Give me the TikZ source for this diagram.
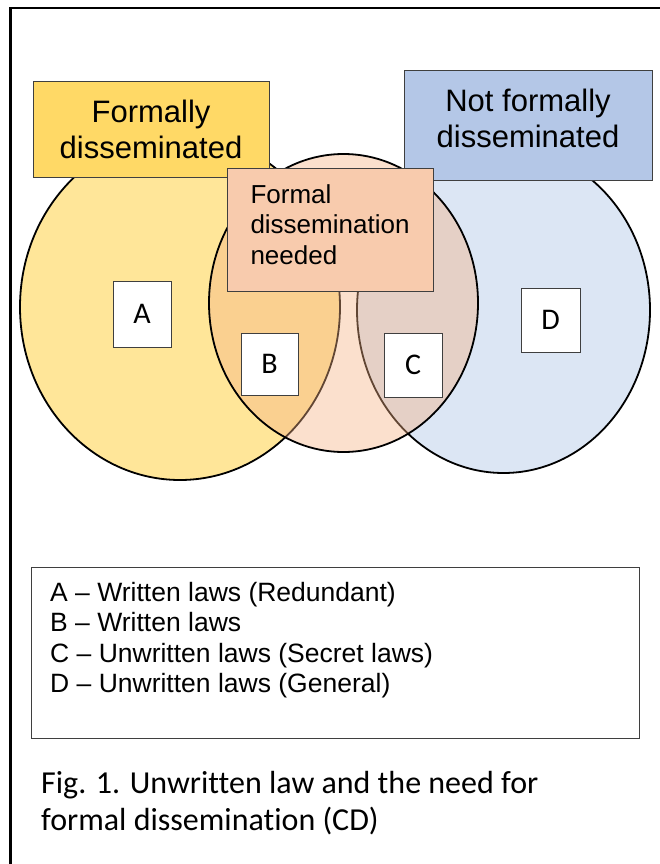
\documentclass[tikz,border=0pt]{standalone}
\usepackage{fontspec}
\setmainfont{Liberation Sans}
\newfontfamily\captionfont[Ligatures={NoCommon}]{Carlito}
\usepackage{tikz}
\usetikzlibrary{shapes}

\definecolor{formalGold}{HTML}{FFD966}
\definecolor{formalLight}{HTML}{FFE699}
\definecolor{notFormalBlue}{HTML}{B4C7E7}
\definecolor{notFormalLight}{HTML}{DCE6F4}
\definecolor{neededPeach}{HTML}{F8CBAD}
\definecolor{neededLight}{HTML}{F4B183}
\definecolor{boxGray}{HTML}{3F3F3F}

\begin{document}
\begin{tikzpicture}[x=1pt, y=-1pt]
            % Set primary nodes
            \tikzset{
                setNode/.style={
                        draw,
                        ellipse,
                        line width=1.8pt,
                        inner sep=0pt
                    }
            }
            \tikzset{
                titleNode/.style={
                        draw=boxGray,
                        rectangle,
                        line width=1pt,
                        align=center,
                        font=\fontsize{31}{36}\selectfont
                    }
            }
            \tikzset{
                letterNode/.style={
                        draw=boxGray,
                        fill=white,
                        rectangle,
                        line width=1pt,
                        inner sep=0pt,
                        font=\captionfont\fontsize{30}{36}\selectfont
                    }
            }
            \tikzset{
                lineNode/.style={
                        anchor=base west,
                        inner sep=0pt
                    }
            }
            \useasboundingbox (0,0) rectangle (660,864);
            % Frame
            \draw[line width=2.5pt] (10.3,864) -- (10.3,8.2) -- (660,8.2);
            % Placing sets
            \node[setNode, fill=formalLight, minimum width=320, minimum height=346](formalSet) at (180,307){};
            \node[setNode, fill=notFormalLight, minimum width=293, minimum height=326](notFormalSet) at (503.5,310){};
            \node[setNode, fill=neededLight, fill opacity=0.4, minimum width=269, minimum height=298](neededSet) at (343.5,303){};
            % Placing titles
            \node[titleNode, fill=formalGold, minimum width=236, minimum height=95](formalBox) at (151,129.5){Formally\\disseminated};
            \node[titleNode, fill=notFormalBlue, minimum width=248, minimum height=109, text depth=15pt](notFormalBox) at (528,125.5){Not formally\\disseminated};
            \node[titleNode, fill=neededPeach, minimum width=206, minimum height=123, align=left, font=\fontsize{26}{30.5}\selectfont, text depth=10pt](neededBox) at (330,229.5){Formal\\dissemination\\needed};
            % Placing letters
            \node[letterNode, minimum width=58, minimum height=66](letterA) at (142,314){A};
            \node[letterNode, minimum width=57, minimum height=62](letterB) at (269.5,364){B};
            \node[letterNode, minimum width=58, minimum height=64](letterC) at (413,365){C};
            \node[letterNode, minimum width=59, minimum height=64](letterD) at (550.5,320){D};
            % Legend
            \node[draw=boxGray, line width=1pt, minimum width=608, minimum height=171](legendBox) at (335,652.5){};
            \node[lineNode, font=\fontsize{26.5}{30}\selectfont](legendA) at (50,601){A – Written laws (Redundant)};
            \node[lineNode, font=\fontsize{26.5}{30}\selectfont](legendB) at (50,631){B – Written laws};
            \node[lineNode, font=\fontsize{26.5}{30}\selectfont](legendC) at (50,662){C – Unwritten laws (Secret laws)};
            \node[lineNode, font=\fontsize{26.5}{30}\selectfont](legendD) at (50,692){D – Unwritten laws (General)};
            % Caption
            \node[lineNode, font=\captionfont\fontsize{32}{37}\selectfont](captionOne) at (41,793){Fig. 1. Unwritten law and the need for};
            \node[lineNode, font=\captionfont\fontsize{32}{37}\selectfont](captionTwo) at (41,830){formal dissemination (CD)};

        \end{tikzpicture}
\end{document}
